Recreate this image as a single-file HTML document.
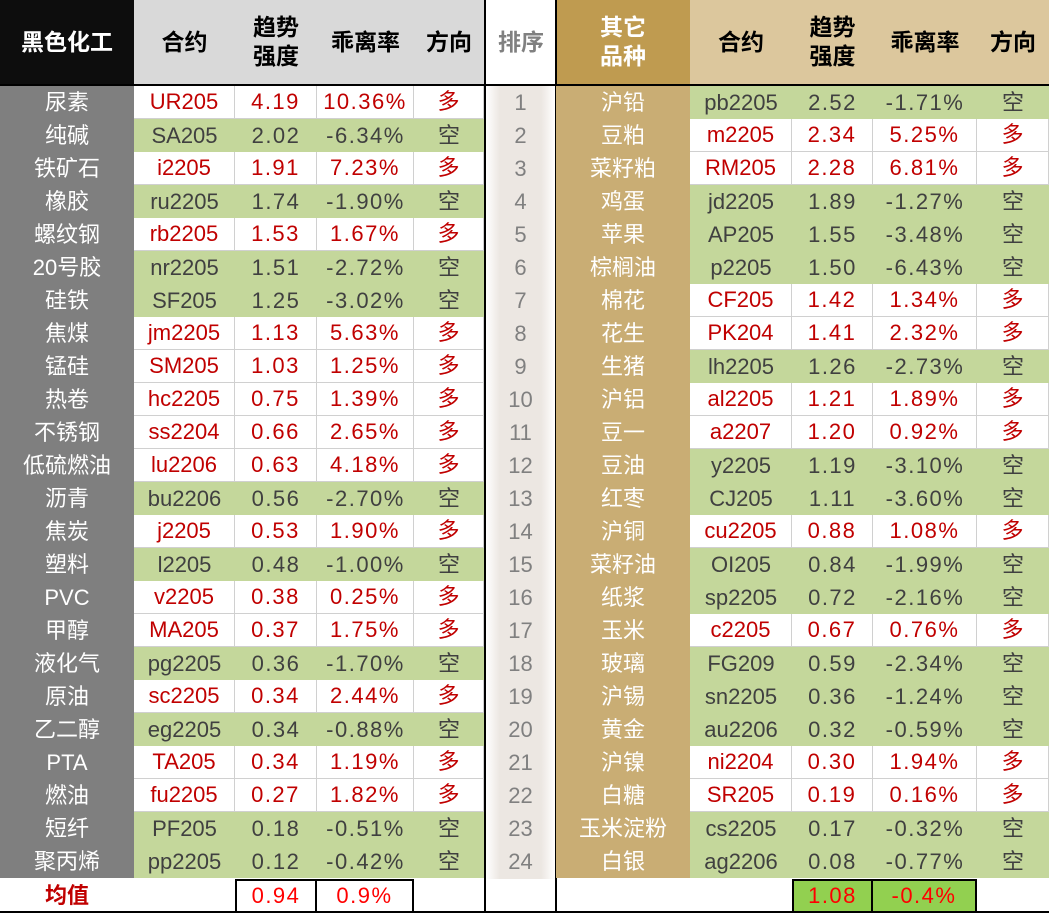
<!DOCTYPE html>
<html><head><meta charset="utf-8"><style>
body{margin:0;width:1049px;height:913px;overflow:hidden;background:#fff;font-family:"Liberation Sans","Noto Sans CJK SC",sans-serif}
#t{position:absolute;left:0;top:0;width:1049px;height:913px}
.c{position:absolute;box-sizing:border-box;display:flex;align-items:center;justify-content:center;font-size:22px;text-align:center;line-height:1.15}
.m{letter-spacing:1.5px}
</style></head><body>
<div id="t"></div>
<script>
const leftNames=["尿素","纯碱","铁矿石","橡胶","螺纹钢","20号胶","硅铁","焦煤","锰硅","热卷","不锈钢","低硫燃油","沥青","焦炭","塑料","PVC","甲醇","液化气","原油","乙二醇","PTA","燃油","短纤","聚丙烯"];
const leftCodes=["UR205","SA205","i2205","ru2205","rb2205","nr2205","SF205","jm2205","SM205","hc2205","ss2204","lu2206","bu2206","j2205","l2205","v2205","MA205","pg2205","sc2205","eg2205","TA205","fu2205","PF205","pp2205"];
const leftTrend=[4.19,2.02,1.91,1.74,1.53,1.51,1.25,1.13,1.03,0.75,0.66,0.63,0.56,0.53,0.48,0.38,0.37,0.36,0.34,0.34,0.34,0.27,0.18,0.12];
const leftDev=[10.36,-6.34,7.23,-1.90,1.67,-2.72,-3.02,5.63,1.25,1.39,2.65,4.18,-2.70,1.90,-1.00,0.25,1.75,-1.70,2.44,-0.88,1.19,1.82,-0.51,-0.42];
const leftDir=["多","空","多","空","多","空","空","多","多","多","多","多","空","多","空","多","多","空","多","空","多","多","空","空"];
const rightNames=["沪铅","豆粕","菜籽粕","鸡蛋","苹果","棕榈油","棉花","花生","生猪","沪铝","豆一","豆油","红枣","沪铜","菜籽油","纸浆","玉米","玻璃","沪锡","黄金","沪镍","白糖","玉米淀粉","白银"];
const rightCodes=["pb2205","m2205","RM205","jd2205","AP205","p2205","CF205","PK204","lh2205","al2205","a2207","y2205","CJ205","cu2205","OI205","sp2205","c2205","FG209","sn2205","au2206","ni2204","SR205","cs2205","ag2206"];
const rightTrend=[2.52,2.34,2.28,1.89,1.55,1.50,1.42,1.41,1.26,1.21,1.20,1.19,1.11,0.88,0.84,0.72,0.67,0.59,0.36,0.32,0.30,0.19,0.17,0.08];
const rightDev=[-1.71,5.25,6.81,-1.27,-3.48,-6.43,1.34,2.32,-2.73,1.89,0.92,-3.10,-3.60,1.08,-1.99,-2.16,0.76,-2.34,-1.24,-0.59,1.94,0.16,-0.32,-0.77];
const rightDir=["空","多","多","空","空","空","多","多","空","多","多","空","空","多","空","空","多","空","空","空","多","多","空","空"];
const means=["0.94","0.9%","1.08","-0.4%"];

const T=document.getElementById('t');
function cell(x,y,w,h,txt,st,name,cls){
  const d=document.createElement('div');d.className='c'+(cls?' '+cls:'');
  d.style.left=x+'px';d.style.top=y+'px';d.style.width=w+'px';d.style.height=h+'px';
  Object.assign(d.style,st||{});d.innerHTML=txt;
  
  
  T.appendChild(d);return d;
}
const L=[0,134,235,317,414,484],R=[556,690,792,873,977,1049];
const top0=86,rh=33,n=24;
const H={fontWeight:'bold',fontSize:'23px',lineHeight:'1.25'};
cell(0,0,134,84,'黑色化工',Object.assign({background:'#0d0d0d',color:'#fff'},H),'left-group-header');
cell(134,0,350,84,'',{background:'#d9d9d9'},'left-header-bg');
const hd=['合约','趋势<br>强度','乖离率','方向'];
for(let i=0;i<4;i++)cell(L[i+1],0,L[i+2]-L[i+1],84,hd[i],H,'left-header-'+i);
cell(486,0,70,84,'排序',Object.assign({color:'#808080'},H),'rank-header');
cell(556,0,134,84,'其它<br>品种',Object.assign({background:'#bf9b50',color:'#fff'},H),'right-group-header');
cell(690,0,359,84,'',{background:'#dcc79d'},'right-header-bg');
for(let i=0;i<4;i++)cell(R[i+1],0,R[i+2]-R[i+1],84,hd[i],H,'right-header-'+i);
cell(0,84,1049,2,'',{background:'#000'},'header-rule');
cell(484,0,2,913,'',{background:'#000'},'divider-left');
cell(555,0,2,913,'',{background:'#000'},'divider-right');
cell(486,86,69,793,'',{background:'linear-gradient(90deg,#fff 0%,#ece7e2 20%,#ece7e2 80%,#fff 100%)'},'rank-bg');
const fmt=v=>v.toFixed(2);
function side(X,names,codes,tr,dv,dr,catBg,pfx){
  for(let i=0;i<n;i++){
    const y=top0+i*rh,g=dr[i]==='空';
    cell(X[0],y,X[1]-X[0],rh,names[i],{background:catBg,color:'#fff'},pfx+'-name-'+i);
    const bg=g?'#c4d79b':'#fff',col=g?'#404040':'#c00000';
    const vals=[codes[i],fmt(tr[i]),fmt(dv[i])+'%',dr[i]];
    for(let k=0;k<4;k++){
      const st={background:bg,color:col};
      if(!g){st.borderRight='1px solid #d0d0d0';st.borderBottom='1px solid #d0d0d0';}
      cell(X[k+1],y,X[k+2]-X[k+1],rh,vals[k],st,pfx+'-col'+k+'-'+i,(k===1||k===2)?'m':'');
    }
  }
}
side(L,leftNames,leftCodes,leftTrend,leftDev,leftDir,'#7f7f7f','left');
side(R,rightNames,rightCodes,rightTrend,rightDev,rightDir,'#c9ad74','right');
for(let i=0;i<n;i++)cell(486,top0+i*rh,69,rh,String(i+1),{color:'#808080'},'rank-'+(i+1));
const my=879;
cell(0,my,134,34,'均值',{color:'#c00000',fontWeight:'bold'},'left-mean-label');
cell(235,my,82,34,means[0],{color:'#ff0000',border:'2px solid #000'},'left-mean-trend','m');
cell(317,my,97,34,means[1],{color:'#ff0000',border:'2px solid #000',borderLeft:'none'},'left-mean-dev','m');
cell(792,my,81,34,means[2],{color:'#ff0000',background:'#92d050',border:'2px solid #000'},'right-mean-trend','m');
cell(873,my,104,34,means[3],{color:'#ff0000',background:'#92d050',border:'2px solid #000',borderLeft:'none'},'right-mean-dev','m');
cell(0,911,1049,2,'',{background:'#000'},'bottom-rule');
</script>
</body></html>
